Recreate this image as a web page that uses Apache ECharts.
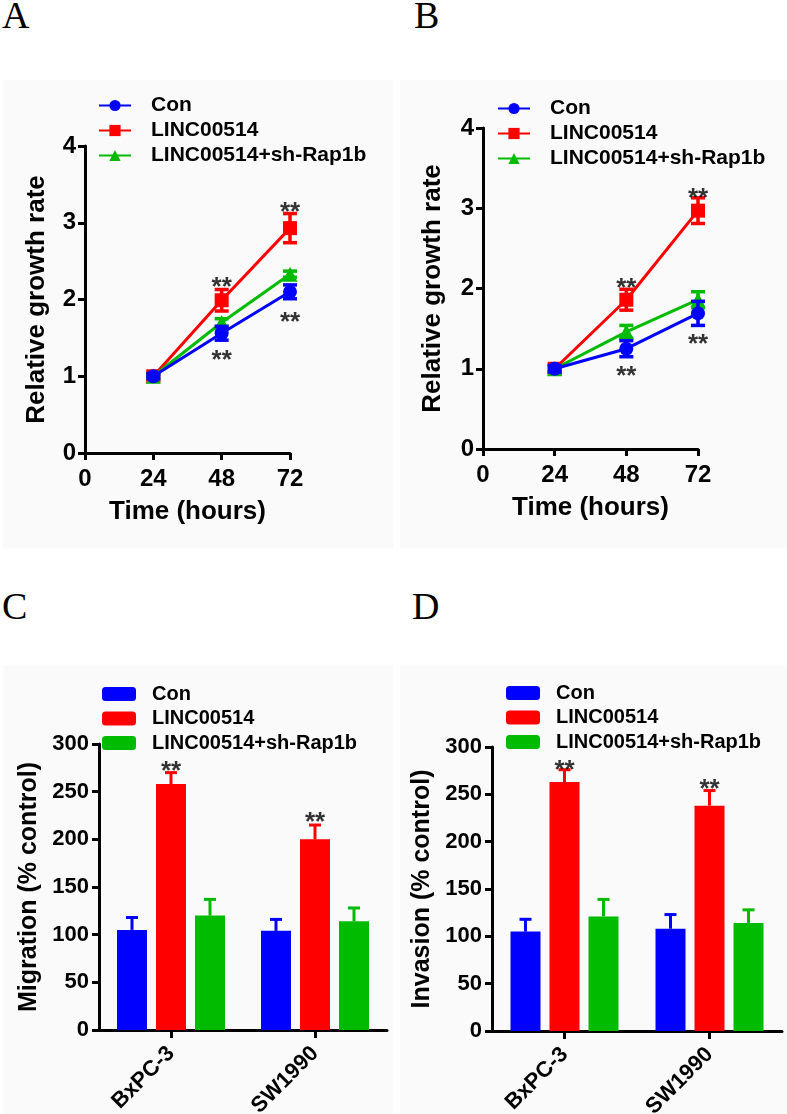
<!DOCTYPE html>
<html><head><meta charset="utf-8">
<script src="https://cdn.jsdelivr.net/npm/echarts@6/dist/echarts.min.js"></script>
<style>
html,body{margin:0;padding:0;background:#fff;width:787px;height:1114px;overflow:hidden;position:relative;}
.bg{position:absolute;background:#fafafa;}
.chart{position:absolute;}
.lbl{position:absolute;font-family:'Liberation Serif','Times New Roman',serif;font-size:38px;line-height:38px;color:#000;}
</style></head><body>
<div class="bg" style="left:3px;top:80px;width:390px;height:468px"></div>
<div class="bg" style="left:400px;top:80px;width:387px;height:468px"></div>
<div class="bg" style="left:3px;top:665px;width:390px;height:449px"></div>
<div class="bg" style="left:400px;top:665px;width:387px;height:449px"></div>
<div class="lbl" style="left:2px;top:-4px">A</div>
<div class="lbl" style="left:414px;top:-4px">B</div>
<div class="lbl" style="left:2px;top:587px">C</div>
<div class="lbl" style="left:412px;top:587px">D</div>
<div id="pA" class="chart" style="left:0;top:0;width:393px;height:557px"></div>
<div id="pB" class="chart" style="left:393px;top:0;width:394px;height:557px"></div>
<div id="pC" class="chart" style="left:0;top:557px;width:393px;height:557px"></div>
<div id="pD" class="chart" style="left:393px;top:557px;width:394px;height:557px"></div>
<script>
// ---------- data ----------
const groupNames = ['Con', 'LINC00514', 'LINC00514+sh-Rap1b'];
const timePoints = [24, 48, 72];

// Panel A
const aCon = [1.00, 1.56, 2.10];
const aConErr = [0.03, 0.09, 0.09];
const aLinc = [1.00, 1.99, 2.93];
const aLincErr = [0.05, 0.14, 0.19];
const aSh = [1.00, 1.70, 2.33];
const aShErr = [0.03, 0.05, 0.04];
const aStars = [[48, 2.25], [48, 1.30], [72, 3.24], [72, 1.80]];

// Panel B
const bCon = [1.00, 1.25, 1.69];
const bConErr = [0.04, 0.10, 0.15];
const bLinc = [1.00, 1.86, 2.97];
const bLincErr = [0.05, 0.13, 0.16];
const bSh = [1.00, 1.46, 1.86];
const bShErr = [0.03, 0.08, 0.10];
const bStars = [[48, 2.10], [48, 1.00], [72, 3.22], [72, 1.40]];

// Panel C (Migration)
const cellLines = ['BxPC-3', 'SW1990'];
const cCon = [105, 104];
const cConErr = [13, 12];
const cLinc = [258, 200];
const cLincErr = [12, 15];
const cSh = [120, 114];
const cShErr = [17, 14];
const cStars = [[0, 279], [1, 225.5]];

// Panel D (Invasion)
const dCon = [105, 108];
const dConErr = [13, 15];
const dLinc = [263, 238];
const dLincErr = [13, 16];
const dSh = [121, 114];
const dShErr = [18, 14];
const dStars = [[0, 283], [1, 263]];

// ---------- styling ----------
const FONT = "'Liberation Sans', Arial, sans-serif";
const BLUE = '#0000ff', RED = '#ff0000', GREEN = '#00bb00';
const colors = [BLUE, RED, GREEN];

function axisCommon(extra) {
  return Object.assign({
    axisLine: {show: true, onZero: false, lineStyle: {color: '#000', width: 3}},
    axisTick: {show: true, length: 7, lineStyle: {color: '#000', width: 3}},
    splitLine: {show: false},
    nameLocation: 'middle',
    nameTextStyle: {color: '#000', fontSize: 25, fontWeight: 'bold', fontFamily: FONT}
  }, extra);
}

function symErrSeries(xs, ys, errs, color, z) {
  return {
    type: 'custom', silent: true, z: z,
    data: xs.map((x, i) => [x, ys[i], errs[i]]),
    renderItem: function (params, api) {
      const x = api.value(0), y = api.value(1), e = api.value(2);
      const top = api.coord([x, y + e]), bot = api.coord([x, y - e]);
      const hw = 7;
      const st = {stroke: color, lineWidth: 3.5};
      return {type: 'group', children: [
        {type: 'line', shape: {x1: top[0], y1: top[1], x2: bot[0], y2: bot[1]}, style: st},
        {type: 'line', shape: {x1: top[0] - hw, y1: top[1], x2: top[0] + hw, y2: top[1]}, style: st},
        {type: 'line', shape: {x1: bot[0] - hw, y1: bot[1], x2: bot[0] + hw, y2: bot[1]}, style: st}
      ]};
    }
  };
}

function starSeries(pts) {
  return {
    type: 'scatter', silent: true, z: 20,
    data: pts, symbolSize: 1, itemStyle: {color: 'rgba(0,0,0,0)'},
    label: {show: true, position: 'inside', formatter: '**', color: '#000',
      fontSize: 26, fontWeight: 'bold', fontFamily: FONT, offset: [0, 8]}
  };
}

function lineOption(cfg) {
  const syms = ['circle', 'rect', 'triangle'];
  const zs = [6, 4, 5];
  const series = [];
  cfg.vals.forEach((v, k) => {
    series.push({
      type: 'line', name: groupNames[k],
      data: timePoints.map((t, i) => [t, v[i]]),
      symbol: syms[k], symbolSize: k === 2 ? 15 : 14, showSymbol: true,
      lineStyle: {width: 3, color: colors[k]},
      itemStyle: {color: colors[k]},
      z: zs[k], silent: true
    });
    series.push(symErrSeries(timePoints, v, cfg.errs[k], colors[k], zs[k]));
  });
  series.push(starSeries(cfg.stars));
  return {
    animation: false,
    textStyle: {fontFamily: FONT},
    legend: {
      data: groupNames, orient: 'vertical', left: cfg.legLeft, top: cfg.legTop,
      padding: 0, itemGap: 4, itemWidth: 32, itemHeight: 14,
      formatter: n => '{t|' + n + '}',
      textStyle: {color: '#000', fontSize: 21, fontWeight: 'bold', fontFamily: FONT,
        rich: {t: {fontSize: 21, fontWeight: 'bold', fontFamily: FONT, color: '#000', padding: [0, 0, 0, 15]}}}
    },
    grid: Object.assign({outerBoundsMode: 'none', containLabel: false}, cfg.grid),
    xAxis: axisCommon({
      type: 'value', min: 0, max: 72, interval: 24,
      axisLabel: {color: '#000', fontSize: 24, fontWeight: 'bold', fontFamily: FONT, margin: 14},
      name: 'Time (hours)', nameGap: 46,
      nameTextStyle: {color: '#000', fontSize: 26, fontWeight: 'bold', fontFamily: FONT}
    }),
    yAxis: axisCommon({
      type: 'value', min: 0, max: 4, interval: 1,
      axisLabel: {color: '#000', fontSize: 24, fontWeight: 'bold', fontFamily: FONT, margin: 9},
      name: 'Relative growth rate', nameGap: cfg.yNameGap,
      nameTextStyle: {color: '#000', fontSize: 26, fontWeight: 'bold', fontFamily: FONT}
    }),
    series: series
  };
}

function barOption(cfg) {
  const series = [];
  const BW = 30, STEP = 39;
  cfg.vals.forEach((v, k) => {
    series.push({
      type: 'bar', name: groupNames[k], data: v, barWidth: BW, barGap: '30%',
      itemStyle: {color: colors[k]}, silent: true, z: 2
    });
  });
  cfg.vals.forEach((v, k) => {
    series.push({
      type: 'custom', silent: true, z: 3,
      data: v.map((y, i) => [i, y, cfg.errs[k][i]]),
      renderItem: function (params, api) {
        const ci = api.value(0), y = api.value(1), e = api.value(2);
        const base = api.coord([ci, y]), top = api.coord([ci, y + e]);
        const x = base[0] + (k - 1) * STEP;
        const st = {stroke: colors[k], lineWidth: 3};
        return {type: 'group', children: [
          {type: 'line', shape: {x1: x, y1: base[1], x2: x, y2: top[1]}, style: st},
          {type: 'line', shape: {x1: x - 6, y1: top[1], x2: x + 6, y2: top[1]}, style: st}
        ]};
      }
    });
  });
  series.push(starSeries(cfg.stars));
  return {
    animation: false,
    textStyle: {fontFamily: FONT},
    legend: {
      data: groupNames, orient: 'vertical', left: cfg.legLeft, top: cfg.legTop,
      padding: 0, itemGap: 4.5, itemWidth: 34, itemHeight: 14, icon: 'roundRect',
      formatter: n => '{t|' + n + '}',
      textStyle: {color: '#000', fontSize: 20, fontWeight: 'bold', fontFamily: FONT,
        rich: {t: {fontSize: 20, fontWeight: 'bold', fontFamily: FONT, color: '#000', padding: [0, 0, 0, 11]}}}
    },
    grid: Object.assign({outerBoundsMode: 'none', containLabel: false}, cfg.grid),
    xAxis: axisCommon({
      type: 'category', data: cellLines,
      axisTick: {show: true, alignWithLabel: true, length: 8, lineStyle: {color: '#000', width: 3}},
      axisLabel: {color: '#000', fontSize: 22, fontWeight: 'bold', fontFamily: FONT, rotate: 45, margin: 20}
    }),
    yAxis: axisCommon({
      type: 'value', min: 0, max: 300, interval: 50,
      axisLabel: {color: '#000', fontSize: 22, fontWeight: 'bold', fontFamily: FONT, margin: 10},
      name: cfg.yName, nameGap: cfg.yNameGap
    }),
    series: series
  };
}

const chA = echarts.init(document.getElementById('pA'));
chA.setOption(lineOption({
  vals: [aCon, aLinc, aSh], errs: [aConErr, aLincErr, aShErr], stars: aStars,
  grid: {left: 85, top: 146, width: 205, height: 307},
  legLeft: 98, legTop: 95, yNameGap: 35
}));
const chB = echarts.init(document.getElementById('pB'));
chB.setOption(lineOption({
  vals: [bCon, bLinc, bSh], errs: [bConErr, bLincErr, bShErr], stars: bStars,
  grid: {left: 90, top: 128, width: 215, height: 321},
  legLeft: 104, legTop: 98, yNameGap: 37
}));
const chC = echarts.init(document.getElementById('pC'));
chC.setOption(barOption({
  vals: [cCon, cLinc, cSh], errs: [cConErr, cLincErr, cShErr], stars: cStars,
  grid: {left: 99, top: 187, width: 288, height: 286},
  legLeft: 102, legTop: 127, yName: 'Migration (% control)', yNameGap: 51
}));
const chD = echarts.init(document.getElementById('pD'));
chD.setOption(barOption({
  vals: [dCon, dLinc, dSh], errs: [dConErr, dLincErr, dShErr], stars: dStars,
  grid: {left: 99, top: 190, width: 290, height: 284},
  legLeft: 113, legTop: 126, yName: 'Invasion (% control)', yNameGap: 45
}));
</script>
</body></html>
